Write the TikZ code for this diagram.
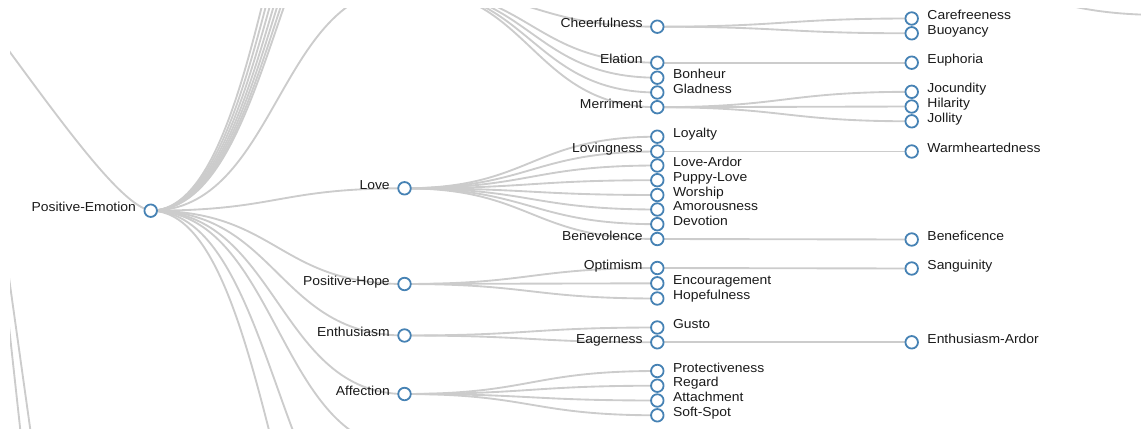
\documentclass[tikz,border=0pt]{standalone}
\usepackage{fontspec}
\newfontfamily\labfont[FakeStretch=1.07]{Liberation Sans}
\usetikzlibrary{calc,backgrounds}
\definecolor{linkc}{HTML}{CCCCCC}
\definecolor{dotc}{HTML}{4682B4}
\definecolor{txtc}{HTML}{1A1A1A}
\tikzset{
  dot/.style={circle,draw=dotc,fill=white,line width=1.35pt,minimum size=9.4pt,inner sep=0pt},
  lbl/.style={text=txtc,font=\labfont\fontsize{9.75pt}{11pt}\selectfont,inner sep=0pt},
  link/.style={draw=linkc,line width=1.4pt},
  diag/.style={to path={let \p1=(\tikztostart), \p2=(\tikztotarget) in .. controls ({0.5*(\x1+\x2)},\y1) and ({0.5*(\x1+\x2)},\y2) .. (\p2)}},
}
\newcommand\mkint[4]{\node[dot] (#1) at (#2,#3) {}; \node[lbl,anchor=base east] (#1-t) at ({#2-14.5},{#3+1}) {#4};}
\newcommand\mkleaf[4]{\node[dot] (#1) at (#2,#3) {}; \node[lbl,anchor=base west] (#1-t) at ({#2+15.5},{#3+1}) {#4};}
\begin{document}
\begin{tikzpicture}[x=0.75pt,y=-0.75pt]
\useasboundingbox (0,0) rectangle (1141,428);
% depth 0
\mkint{pe}{150.7}{210.7}{Positive-Emotion}
% depth 1
\mkint{love}{404.5}{188.3}{Love}
\mkint{phope}{404.5}{284}{Positive-Hope}
\mkint{enth}{404.5}{335.5}{Enthusiasm}
\mkint{affec}{404.5}{394}{Affection}
% depth 2
\mkint{cheer}{657.3}{26.7}{Cheerfulness}
\mkint{elat}{657.3}{62.7}{Elation}
\mkleaf{bonh}{657.3}{77.7}{Bonheur}
\mkleaf{glad}{657.3}{92.5}{Gladness}
\mkint{merr}{657.3}{107.2}{Merriment}
\mkleaf{loyal}{657.3}{136.7}{Loyalty}
\mkint{lovng}{657.3}{151.5}{Lovingness}
\mkleaf{lardor}{657.3}{165.5}{Love-Ardor}
\mkleaf{puppy}{657.3}{180.2}{Puppy-Love}
\mkleaf{worsh}{657.3}{195}{Worship}
\mkleaf{amor}{657.3}{209.5}{Amorousness}
\mkleaf{devot}{657.3}{224.2}{Devotion}
\mkint{benev}{657.3}{239}{Benevolence}
\mkint{optim}{657.3}{268}{Optimism}
\mkleaf{encour}{657.3}{283.3}{Encouragement}
\mkleaf{hopef}{657.3}{298.5}{Hopefulness}
\mkleaf{gusto}{657.3}{327.5}{Gusto}
\mkint{eager}{657.3}{342.3}{Eagerness}
\mkleaf{protec}{657.3}{371}{Protectiveness}
\mkleaf{regard}{657.3}{385.7}{Regard}
\mkleaf{attach}{657.3}{400.5}{Attachment}
\mkleaf{softs}{657.3}{415.3}{Soft-Spot}
% depth 3
\mkleaf{caref}{911.7}{18.5}{Carefreeness}
\mkleaf{buoy}{911.7}{33.3}{Buoyancy}
\mkleaf{euph}{911.7}{62.7}{Euphoria}
\mkleaf{jocund}{911.7}{91.8}{Jocundity}
\mkleaf{hilar}{911.7}{106.5}{Hilarity}
\mkleaf{jollity}{911.7}{121.3}{Jollity}
\mkleaf{warmh}{911.7}{151.5}{Warmheartedness}
\mkleaf{benef}{911.7}{239.5}{Beneficence}
\mkleaf{sangu}{911.7}{268.5}{Sanguinity}
\mkleaf{enardor}{911.7}{342.3}{Enthusiasm-Ardor}
% off-screen ends
\coordinate (joy) at (404.5,-12);
\coordinate (up1) at (404.5,-160);
\coordinate (up2) at (404.5,-178);
\coordinate (up3) at (404.5,-200);
\coordinate (up4) at (404.5,-225);
\coordinate (up5) at (404.5,-255);
\coordinate (up6) at (404.5,-290);
\coordinate (up7) at (404.5,-330);
\coordinate (dn1) at (404.5,448);
\coordinate (dn2) at (404.5,566);
\coordinate (dn3) at (404.5,718);
\coordinate (pein) at (-10,25);
\coordinate (sa1) at (3.7,240);
\coordinate (sa2) at (36,470);
\coordinate (sb1) at (6.1,300);
\coordinate (sb2) at (24.7,470);
\coordinate (tr1) at (911.7,-20);
\coordinate (tr2) at (1164,15);
\begin{pgfonlayer}{background}
\clip (10,9) rectangle (1141,428);
\draw[link] (pein) .. controls (60,120) and (120,205) .. (pe.center);
\draw[link] (sa1) -- (sa2);
\draw[link] (sb1) -- (sb2);
\draw[link] (tr1) to[diag] (tr2);
\foreach \t in {love,phope,enth,affec}{\draw[link] (pe.center) to[diag] (\t.center);}
\foreach \t in {joy,up1,up2,up3,up4,up5,up6,up7,dn1,dn2,dn3}{\draw[link] (pe.center) to[diag] (\t);}
\foreach \t in {cheer,elat,bonh,glad,merr}{\draw[link] (joy) to[diag] (\t.center);}
\foreach \t in {loyal,lovng,lardor,puppy,worsh,amor,devot,benev}{\draw[link] (love.center) to[diag] (\t.center);}
\foreach \t in {optim,encour,hopef}{\draw[link] (phope.center) to[diag] (\t.center);}
\foreach \t in {gusto,eager}{\draw[link] (enth.center) to[diag] (\t.center);}
\foreach \t in {protec,regard,attach,softs}{\draw[link] (affec.center) to[diag] (\t.center);}
\foreach \t in {caref,buoy}{\draw[link] (cheer.center) to[diag] (\t.center);}
\draw[link] (elat.center) to[diag] (euph.center);
\foreach \t in {jocund,hilar,jollity}{\draw[link] (merr.center) to[diag] (\t.center);}
\draw[link] (lovng.center) to[diag] (warmh.center);
\draw[link] (benev.center) to[diag] (benef.center);
\draw[link] (optim.center) to[diag] (sangu.center);
\draw[link] (eager.center) to[diag] (enardor.center);
\end{pgfonlayer}
\end{tikzpicture}
\end{document}
